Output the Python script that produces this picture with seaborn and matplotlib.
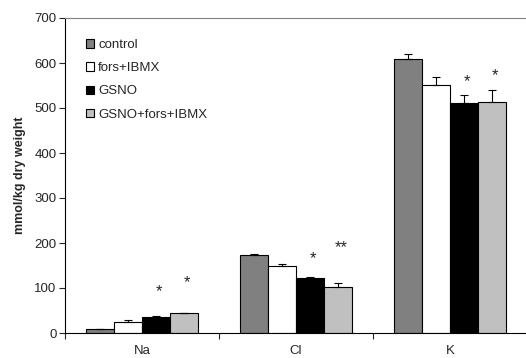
import pandas as pd
import seaborn as sns
import matplotlib.pyplot as plt
from matplotlib.ticker import FixedLocator

# ------------------------ DATA ------------------------
ions = ["Na", "Cl", "K"]
groups = ["control", "fors+IBMX", "GSNO", "GSNO+fors+IBMX"]

control = [9, 173, 609]
fors_ibmx = [24, 149, 552]
gsno = [36, 122, 511]
gsno_fors = [44, 102, 513]

control_err = [1, 2, 10]
fors_ibmx_err = [5, 4, 17]
gsno_err = [1, 2, 17]
gsno_fors_err = [1, 10, 27]

# significance marks: (ion, group, label, y)
star_ion = ["Na", "Na", "Cl", "Cl", "K", "K"]
star_group = ["GSNO", "GSNO+fors+IBMX", "GSNO", "GSNO+fors+IBMX", "GSNO", "GSNO+fors+IBMX"]
star_text = ["*", "*", "*", "**", "*", "*"]
star_y = [91, 112, 165, 190, 558, 571]

colors = ["#808080", "#ffffff", "#000000", "#c0c0c0"]

# ------------------------ PLOT ------------------------
sns.set_style("white")
plt.rcParams["font.family"] = ["Liberation Sans", "DejaVu Sans"]

means = [control, fors_ibmx, gsno, gsno_fors]
errs = [control_err, fors_ibmx_err, gsno_err, gsno_fors_err]
rows = []
for g, m, e in zip(groups, means, errs):
    for ion, v, s in zip(ions, m, e):
        rows.append({"ion": ion, "group": g, "value": v, "err": s})
df = pd.DataFrame(rows)

fig = plt.figure(figsize=(5.26, 3.58), dpi=100)
ax = fig.add_axes([65 / 526, 25 / 358, 462 / 526, 315 / 358])

sns.barplot(
    data=df, x="ion", y="value", hue="group",
    order=ions, hue_order=groups, palette=colors,
    errorbar=None, width=0.73, edgecolor="black", linewidth=0.8,
    saturation=1, ax=ax
)

# upper error bars only
for g, cont in zip(groups, ax.containers):
    sub = df[df["group"] == g].set_index("ion").loc[ions]
    xs = [b.get_x() + b.get_width() / 2 for b in cont]
    ax.errorbar(xs, sub["value"], yerr=[[0] * len(xs), sub["err"]],
                fmt="none", ecolor="black", elinewidth=0.8, capsize=3,
                capthick=0.8)

# significance stars
pos = {}
for g, cont in zip(groups, ax.containers):
    for ion, b in zip(ions, cont):
        pos[(ion, g)] = b.get_x() + b.get_width() / 2
for ion, g, t, y in zip(star_ion, star_group, star_text, star_y):
    ax.text(pos[(ion, g)] + 0.02, y, t, ha="center", va="center", fontsize=12)

ax.set_xlim(-0.5, 2.5)
ax.set_ylim(0, 700)
ax.set_yticks(range(0, 701, 100))
ax.tick_params(axis="y", labelsize=9.5, length=4, width=0.8, left=True,
               direction="out", pad=2)
ax.xaxis.set_minor_locator(FixedLocator([-0.5, 0.5, 1.5, 2.5]))
ax.tick_params(axis="x", which="major", length=0, labelsize=9.5, pad=9)
ax.tick_params(axis="x", which="minor", length=4, width=0.8, bottom=True,
               direction="out")
ax.set_xlabel("")
ax.set_ylabel("mmol/kg dry weight", fontsize=9, fontweight="bold", labelpad=6)

for side in ["left", "bottom"]:
    ax.spines[side].set_color("black")
    ax.spines[side].set_linewidth(0.8)
ax.spines["top"].set_color("#808080")
ax.spines["top"].set_linewidth(0.8)
ax.spines["right"].set_visible(False)

leg = ax.legend(loc="upper left", bbox_to_anchor=(0.035, 0.95), frameon=False,
                fontsize=9.5, handlelength=0.6, handleheight=0.6,
                handletextpad=0.3, labelspacing=0.85, borderaxespad=0)

fig.savefig("out.png", dpi=100)
